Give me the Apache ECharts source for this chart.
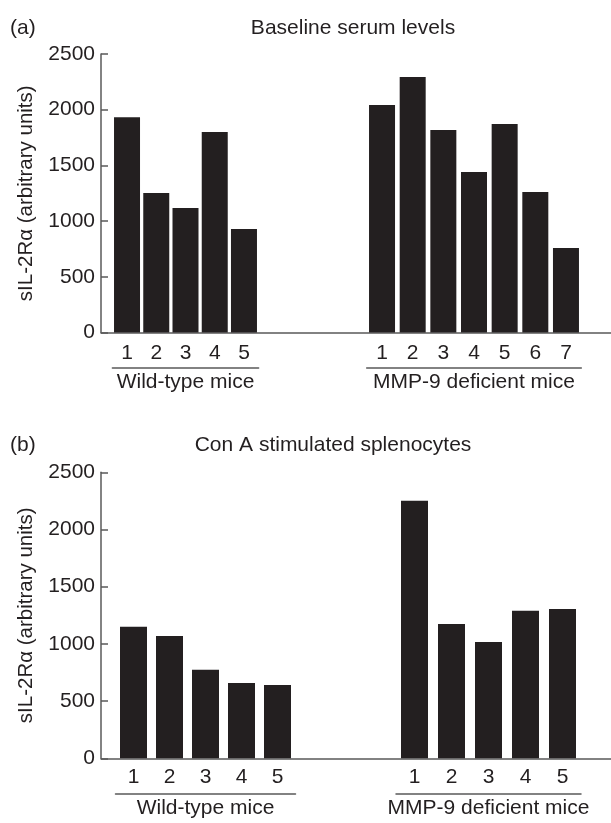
<!DOCTYPE html>
<html>
<head>
<meta charset="utf-8">
<script src="https://cdn.jsdelivr.net/npm/echarts@6/dist/echarts.min.js"></script>
<style>
html,body{margin:0;padding:0;background:#fff;}
#chart{width:611px;height:823px;}
</style>
</head>
<body>
<div id="chart"></div>
<script>
// panel (a) baseline serum levels
var wtMiceA = ['1','2','3','4','5'];
var mmpMiceA = ['1','2','3','4','5','6','7'];
var wtSerum = [1932, 1252, 1118, 1800, 929];
var mmpSerum = [2042, 2294, 1818, 1441, 1872, 1261, 759];

// panel (b) Con A stimulated splenocytes
var wtMiceB = ['1','2','3','4','5'];
var mmpMiceB = ['1','2','3','4','5'];
var wtSpleno = [1149, 1070, 773, 659, 641];
var mmpSpleno = [2251, 1175, 1017, 1289, 1306];

var yTicks = {min: 0, max: 2500, interval: 500};
var yName = 'sIL-2Rα (arbitrary units)';
var wtName = 'Wild-type mice';
var mmpName = 'MMP-9 deficient mice';

var ink = '#231f20';
var axisGrey = '#5a5a5a';
var font = 'Liberation Sans';

function frameX(grid){
	return {
		type:'value', gridIndex:grid, min:0, max:1,
		axisLine:{show:true, onZero:false, lineStyle:{color:axisGrey, width:1.5}},
		axisTick:{show:false}, axisLabel:{show:false}, splitLine:{show:false}
	};
}
function frameY(grid){
	return {
		type:'value', gridIndex:grid, min:yTicks.min, max:yTicks.max, interval:yTicks.interval,
		axisLine:{show:true, lineStyle:{color:axisGrey, width:1.5}},
		axisTick:{show:true, inside:true, length:7, lineStyle:{color:axisGrey, width:1.5}},
		axisLabel:{color:ink, fontSize:21, fontFamily:font, margin:6,
			formatter:function(v){ return String(v); }},
		splitLine:{show:false},
		name:yName, nameLocation:'middle', nameGap:64,
		nameTextStyle:{color:ink, fontSize:20.5, fontFamily:font}
	};
}
function hiddenY(grid){
	return {
		type:'value', gridIndex:grid, min:yTicks.min, max:yTicks.max, show:false
	};
}
function catX(grid, cats, margin){
	return {
		type:'category', gridIndex:grid, data:cats,
		axisLine:{show:false}, axisTick:{show:false}, splitLine:{show:false},
		axisLabel:{color:ink, fontSize:21, fontFamily:font, margin:margin}
	};
}
function groupX(grid, cats, offset, name){
	return {
		type:'category', gridIndex:grid, data:cats, position:'bottom', offset:offset,
		axisLine:{show:true, lineStyle:{color:axisGrey, width:1.5}},
		axisTick:{show:false}, axisLabel:{show:false}, splitLine:{show:false},
		name:name, nameLocation:'middle', nameGap:4,
		nameTextStyle:{color:ink, fontSize:21, fontFamily:font}
	};
}
function bars(xi, yi, data, w){
	return {
		type:'bar', xAxisIndex:xi, yAxisIndex:yi, data:data, barWidth:w,
		itemStyle:{color:ink}, silent:true, animation:false
	};
}

var titleStyle = {color:ink, fontSize:21, fontWeight:'normal', fontFamily:font};

var option = {
	backgroundColor:'#fff',
	animation:false,
	textStyle:{fontFamily:font},
	title:[
		{text:'(a)', left:5, top:13, textStyle:titleStyle},
		{text:'Baseline serum levels', left:348, top:13, textAlign:'center', textStyle:titleStyle},
		{text:'(b)', left:5, top:430, textStyle:titleStyle},
		{text:'Con A stimulated splenocytes', left:328, top:430, textAlign:'center', textStyle:titleStyle}
	],
	grid:[
		{left:101, right:0, top:54, height:278.5},
		{left:112.4, width:146.2, top:54, height:278.5},
		{left:366.7, width:214.6, top:54, height:278.5},
		{left:101, right:0, top:472.3, height:286},
		{left:115.5, width:180, top:472.3, height:286},
		{left:396, width:185, top:472.3, height:286}
	],
	xAxis:[
		frameX(0),
		catX(1, wtMiceA, 10), groupX(1, wtMiceA, 35.5, wtName),
		catX(2, mmpMiceA, 10), groupX(2, mmpMiceA, 35.5, mmpName),
		frameX(3),
		catX(4, wtMiceB, 8), groupX(4, wtMiceB, 35, wtName),
		catX(5, mmpMiceB, 8), groupX(5, mmpMiceB, 35, mmpName)
	],
	yAxis:[
		frameY(0), hiddenY(1), hiddenY(2),
		frameY(3), hiddenY(4), hiddenY(5)
	],
	series:[
		bars(1, 1, wtSerum, 26),
		bars(3, 2, mmpSerum, 26),
		bars(6, 4, wtSpleno, 27),
		bars(8, 5, mmpSpleno, 27)
	]
};

echarts.init(document.getElementById('chart')).setOption(option);
</script>
</body>
</html>
